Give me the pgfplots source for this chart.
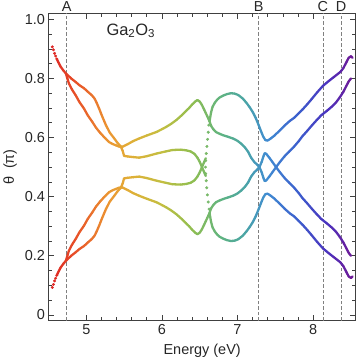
\documentclass[border=0pt]{standalone}
\usepackage{pgfplots}
\pgfplotsset{compat=1.18}
\usepackage{fontspec}
\setmainfont{Liberation Sans}
\begin{document}
\begin{tikzpicture}
\pgfplotsset{
  rb/.style={mesh, line width=2.3pt, line cap=round, line join=round, point meta=x},
  rd/.style={scatter, only marks, mark=*, mark size=1.3pt, point meta=x,
     scatter/use mapped color={draw=mapped color, fill=mapped color}},
}
\begin{axis}[
  scale only axis, width=307bp, height=307bp,
  xmin=4.5, xmax=8.565, ymin=-0.02, ymax=1.02,
  xtick={5,6,7,8}, xticklabels={5,6,7,8},
  ytick={0,0.2,0.4,0.6,0.8,1.0}, yticklabels={0,0.2,0.4,0.6,0.8,1.0},
  minor x tick num=4, minor y tick num=3,
  tick align=inside, major tick length=6bp, minor tick length=3.5bp,
  tick style={black!75, line width=0.6pt},
  axis line style={black!75, line width=0.8pt},
  every tick label/.append style={font=\fontsize{14.5}{17}\selectfont, text=black!85},
  xlabel={Energy (eV)}, ylabel={θ\ \ (π)},
  label style={font=\fontsize{14.5}{17}\selectfont, text=black!85},
  xlabel style={at={(axis description cs:0.5,-0.098)}, anchor=center},
  ylabel style={at={(axis description cs:-0.125,0.5)}, anchor=center, rotate=0},
  colormap={rbE}{rgb255(0cm)=(220,30,35); rgb255(4cm)=(232,85,40); rgb255(8cm)=(235,150,50);
    rgb255(11cm)=(225,175,55); rgb255(15cm)=(195,190,65); rgb255(19cm)=(145,190,80);
    rgb255(23cm)=(95,180,130); rgb255(26cm)=(75,165,165); rgb255(29cm)=(65,140,210);
    rgb255(33cm)=(60,95,205); rgb255(37cm)=(75,50,190); rgb255(41cm)=(120,20,140)},
  point meta min=4.5, point meta max=8.6,
  clip=false,
]
% reference lines
\addplot[black!50, line width=0.8pt, dash pattern=on 3.5pt off 2pt] coordinates {(4.74,-0.02) (4.74,1.02)};
\addplot[black!50, line width=0.8pt, dash pattern=on 3.5pt off 2pt] coordinates {(7.28,-0.02) (7.28,1.02)};
\addplot[black!50, line width=0.8pt, dash pattern=on 3.5pt off 2pt] coordinates {(8.13,-0.02) (8.13,1.02)};
\addplot[black!50, line width=0.8pt, dash pattern=on 3.5pt off 2pt] coordinates {(8.37,-0.02) (8.37,1.02)};
\node[anchor=south, inner sep=1.5bp, font=\fontsize{14.5}{17}\selectfont, text=black!85] at (axis cs:4.74,1.02) {A};
\node[anchor=south, inner sep=1.5bp, font=\fontsize{14.5}{17}\selectfont, text=black!85] at (axis cs:7.28,1.02) {B};
\node[anchor=south, inner sep=1.5bp, font=\fontsize{14.5}{17}\selectfont, text=black!85] at (axis cs:8.13,1.02) {C};
\node[anchor=south, inner sep=1.5bp, font=\fontsize{14.5}{17}\selectfont, text=black!85] at (axis cs:8.37,1.02) {D};
\node[anchor=base west, inner sep=0pt, font=\fontsize{16.5}{19}\selectfont, text=black!85] at (axis cs:5.265,0.946) {Ga\textsubscript{2}O\textsubscript{3}};

% start dots
\addplot[rd] coordinates {(4.55,0.907) (4.565,0.897) (4.58,0.885) (4.595,0.876) (4.61,0.866)};
\addplot[rd] coordinates {(4.55,0.093) (4.565,0.103) (4.58,0.115) (4.595,0.124) (4.61,0.134)};
% U0 / L0
\addplot[rb] coordinates {(4.61,0.866) (4.63,0.855) (4.66,0.84) (4.70,0.826) (4.73,0.817)};
\addplot[rb] coordinates {(4.61,0.134) (4.63,0.145) (4.66,0.16) (4.70,0.174) (4.73,0.183)};
% U1 / L1
\addplot[rb] coordinates {(4.73,0.817) (4.80,0.80) (4.86,0.788) (4.91,0.777) (4.97,0.767) (5.02,0.755) (5.07,0.744) (5.11,0.732) (5.14,0.716) (5.17,0.698) (5.21,0.672) (5.26,0.642) (5.31,0.617) (5.37,0.597) (5.41,0.583) (5.44,0.574) (5.46,0.570)};
\addplot[rb] coordinates {(4.73,0.183) (4.80,0.20) (4.86,0.212) (4.91,0.223) (4.97,0.233) (5.02,0.245) (5.07,0.256) (5.11,0.268) (5.14,0.284) (5.17,0.302) (5.21,0.328) (5.26,0.358) (5.31,0.383) (5.37,0.403) (5.41,0.417) (5.44,0.426) (5.46,0.430)};
% U2 / L2
\addplot[rb] coordinates {(4.73,0.817) (4.75,0.80) (4.77,0.783) (4.81,0.763) (4.86,0.743) (4.91,0.72) (4.97,0.698) (5.02,0.675) (5.08,0.653) (5.13,0.633) (5.19,0.614) (5.25,0.598) (5.30,0.585) (5.35,0.578) (5.39,0.574) (5.43,0.570) (5.46,0.568)};
\addplot[rb] coordinates {(4.73,0.183) (4.75,0.20) (4.77,0.217) (4.81,0.237) (4.86,0.257) (4.91,0.28) (4.97,0.302) (5.02,0.325) (5.08,0.347) (5.13,0.367) (5.19,0.386) (5.25,0.402) (5.30,0.415) (5.35,0.422) (5.39,0.426) (5.43,0.430) (5.46,0.432)};
% U3 / L3
\addplot[rb] coordinates {(5.46,0.568) (5.48,0.569) (5.55,0.578) (5.62,0.588) (5.70,0.597) (5.80,0.607) (5.93,0.619) (6.05,0.635) (6.12,0.646) (6.19,0.659) (6.26,0.675) (6.32,0.690) (6.36,0.700) (6.40,0.712) (6.44,0.722) (6.47,0.727) (6.50,0.722) (6.53,0.710) (6.56,0.694) (6.60,0.672) (6.63,0.655)};
\addplot[rb] coordinates {(5.46,0.432) (5.48,0.431) (5.55,0.422) (5.62,0.412) (5.70,0.403) (5.80,0.393) (5.93,0.381) (6.05,0.365) (6.12,0.354) (6.19,0.341) (6.26,0.325) (6.32,0.310) (6.36,0.300) (6.40,0.288) (6.44,0.278) (6.47,0.273) (6.50,0.278) (6.53,0.290) (6.56,0.306) (6.60,0.328) (6.63,0.345)};
% U4 / L4
\addplot[rb] coordinates {(5.46,0.568) (5.48,0.556) (5.50,0.538) (5.55,0.536) (5.62,0.534) (5.70,0.532) (5.80,0.537) (5.93,0.546) (6.05,0.553) (6.14,0.558) (6.25,0.559) (6.32,0.557) (6.38,0.553) (6.43,0.545) (6.47,0.532) (6.50,0.518) (6.53,0.500) (6.56,0.482) (6.58,0.470)};
\addplot[rb] coordinates {(5.46,0.432) (5.48,0.444) (5.50,0.462) (5.55,0.464) (5.62,0.466) (5.70,0.468) (5.80,0.463) (5.93,0.454) (6.05,0.447) (6.14,0.442) (6.25,0.441) (6.32,0.443) (6.38,0.447) (6.43,0.455) (6.47,0.468) (6.50,0.482) (6.53,0.500) (6.56,0.518) (6.58,0.530)};
% dotted link
\addplot[rd] coordinates {(6.620,0.642) (6.613,0.618) (6.604,0.594) (6.595,0.570) (6.587,0.546) (6.580,0.522) (6.577,0.500) (6.580,0.478) (6.586,0.454) (6.593,0.430) (6.602,0.406) (6.612,0.382) (6.625,0.358)};
% U5 / L5
\addplot[rb] coordinates {(6.63,0.655) (6.65,0.685) (6.67,0.704) (6.70,0.718) (6.73,0.728) (6.76,0.735) (6.81,0.742) (6.86,0.747) (6.91,0.750) (6.96,0.749) (7.01,0.744) (7.07,0.732) (7.12,0.717) (7.16,0.703) (7.20,0.687) (7.24,0.667) (7.28,0.642) (7.31,0.622) (7.34,0.603) (7.37,0.591) (7.40,0.590) (7.44,0.597) (7.49,0.607) (7.55,0.622) (7.62,0.640) (7.69,0.656) (7.75,0.667) (7.80,0.680) (7.86,0.695) (7.92,0.712) (7.98,0.730) (8.05,0.752) (8.13,0.775) (8.20,0.790) (8.27,0.804) (8.36,0.822) (8.40,0.835) (8.44,0.855) (8.47,0.870) (8.50,0.875) (8.52,0.870)};
\addplot[rb] coordinates {(6.63,0.345) (6.65,0.315) (6.67,0.296) (6.70,0.282) (6.73,0.272) (6.76,0.265) (6.81,0.258) (6.86,0.253) (6.91,0.250) (6.96,0.251) (7.01,0.256) (7.07,0.268) (7.12,0.283) (7.16,0.297) (7.20,0.313) (7.24,0.333) (7.28,0.358) (7.31,0.378) (7.34,0.397) (7.37,0.409) (7.40,0.410) (7.44,0.403) (7.49,0.393) (7.55,0.378) (7.62,0.360) (7.69,0.344) (7.75,0.333) (7.80,0.320) (7.86,0.305) (7.92,0.288) (7.98,0.270) (8.05,0.248) (8.13,0.225) (8.20,0.210) (8.27,0.196) (8.36,0.178) (8.40,0.165) (8.44,0.145) (8.47,0.130) (8.50,0.125) (8.52,0.130)};
% U6 / L6
\addplot[rb] coordinates {(6.63,0.655) (6.65,0.640) (6.68,0.628) (6.72,0.618) (6.77,0.612) (6.81,0.608) (6.87,0.603) (6.94,0.597) (7.00,0.589) (7.05,0.579) (7.10,0.566) (7.14,0.552) (7.18,0.532) (7.22,0.518) (7.26,0.508) (7.29,0.500) (7.32,0.482) (7.345,0.462) (7.36,0.453) (7.38,0.455) (7.42,0.468) (7.46,0.482) (7.51,0.500) (7.56,0.517) (7.62,0.536) (7.68,0.552) (7.75,0.570) (7.81,0.588) (7.86,0.605) (7.92,0.622) (7.98,0.640) (8.05,0.660) (8.11,0.676) (8.18,0.690) (8.24,0.703) (8.30,0.718) (8.35,0.735) (8.40,0.755) (8.44,0.775) (8.47,0.790) (8.50,0.800)};
\addplot[rb] coordinates {(6.63,0.345) (6.65,0.360) (6.68,0.372) (6.72,0.382) (6.77,0.388) (6.81,0.392) (6.87,0.397) (6.94,0.403) (7.00,0.411) (7.05,0.421) (7.10,0.434) (7.14,0.448) (7.18,0.468) (7.22,0.482) (7.26,0.492) (7.29,0.500) (7.32,0.518) (7.345,0.538) (7.36,0.547) (7.38,0.545) (7.42,0.532) (7.46,0.518) (7.51,0.500) (7.56,0.483) (7.62,0.464) (7.68,0.448) (7.75,0.430) (7.81,0.412) (7.86,0.395) (7.92,0.378) (7.98,0.360) (8.05,0.340) (8.11,0.324) (8.18,0.310) (8.24,0.297) (8.30,0.282) (8.35,0.265) (8.40,0.245) (8.44,0.225) (8.47,0.210) (8.50,0.200)};
\end{axis}
\end{tikzpicture}
\end{document}
